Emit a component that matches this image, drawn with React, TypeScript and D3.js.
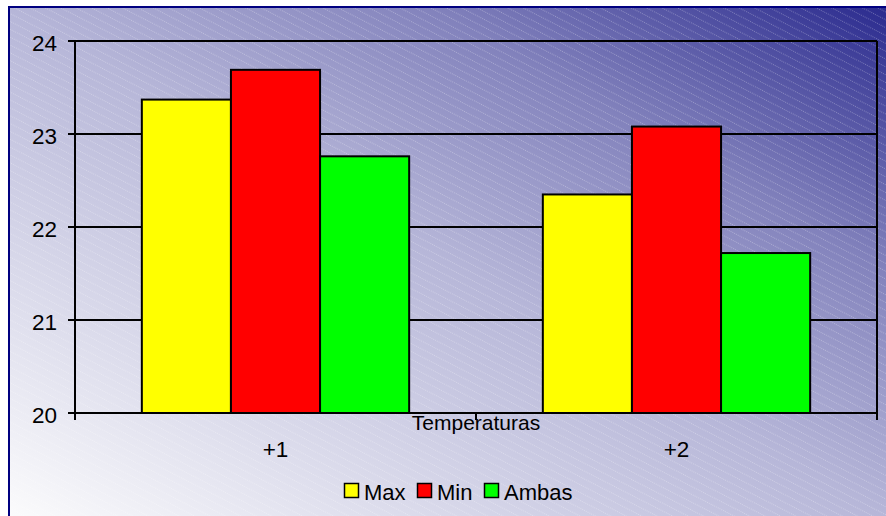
import React from "react";
import * as d3 from "d3";

const categories = ["+1", "+2"];
const seriesNames = ["Max", "Min", "Ambas"];
const seriesColors = ["#FFFF00", "#FF0000", "#00FF00"];
const maxValues = [23.37, 22.35];
const minValues = [23.69, 23.08];
const ambasValues = [22.76, 21.72];
const yTicks = [20, 21, 22, 23, 24];
const axisTitle = "Temperaturas";

const W = 886;
const H = 516;

export default function App() {
  const seriesValues = [maxValues, minValues, ambasValues];
  const plot = { left: 75, right: 877, top: 41, bottom: 413 };
  const y = d3.scaleLinear().domain([20, 24]).range([plot.bottom, plot.top]);
  const x0 = d3.scaleBand<string>().domain(categories).range([plot.left, plot.right]).padding(0);
  const x1 = d3
    .scaleBand<string>()
    .domain(seriesNames)
    .range([0, x0.bandwidth()])
    .paddingInner(0)
    .paddingOuter(0.75);

  const font = "'Liberation Sans', Arial, sans-serif";
  const boundaries = [plot.left, ...categories.map((c) => (x0(c) as number) + x0.bandwidth())];
  const legendX = [344, 417, 484];

  return (
    <svg
      width={W}
      height={H}
      style={{ position: "absolute", left: 0, top: 0, display: "block" }}
      fontFamily={font}
    >
      <defs>
        <linearGradient id="bg" gradientUnits="userSpaceOnUse" x1={-221.5} y1={383.6} x2={219} y2={-379.3}>
          <stop offset="0" stopColor="#fbfbfc" />
          <stop offset="0.5" stopColor="#b6b6d8" />
          <stop offset="0.74" stopColor="#8282bc" />
          <stop offset="1" stopColor="#2a2a8e" />
        </linearGradient>
        <pattern
          id="stripes"
          patternUnits="userSpaceOnUse"
          width={8}
          height={7}
          patternTransform="rotate(27)"
        >
          <line x1={0} y1={0.5} x2={8} y2={0.5} stroke="#ffffff" strokeOpacity={0.28} strokeWidth={1} strokeDasharray="1 1" />
        </pattern>
      </defs>
      <rect x={0} y={0} width={W} height={H} fill="#ffffff" />
      <rect x={9} y={7} width={W + 20} height={H + 20} fill="url(#bg)" />
      <rect x={9} y={7} width={W + 20} height={H + 20} fill="url(#stripes)" />
      <rect x={9} y={7} width={W + 20} height={H + 20} fill="none" stroke="#000080" strokeWidth={2} />

      {/* gridlines */}
      {yTicks.slice(1).map((t) => (
        <line key={t} x1={plot.left} x2={plot.right} y1={y(t)} y2={y(t)} stroke="#000" strokeWidth={2} />
      ))}
      <line x1={plot.right} x2={plot.right} y1={plot.top} y2={plot.bottom} stroke="#000" strokeWidth={2} />

      {/* bars */}
      {categories.map((c, ci) =>
        seriesNames.map((s, si) => {
          const v = seriesValues[si][ci];
          const bx = (x0(c) as number) + (x1(s) as number);
          return (
            <rect
              key={c + s}
              x={bx}
              y={y(v)}
              width={x1.bandwidth()}
              height={y(20) - y(v)}
              fill={seriesColors[si]}
              stroke="#000"
              strokeWidth={2}
            />
          );
        })
      )}

      {/* axes */}
      <line x1={plot.left} x2={plot.left} y1={plot.top - 1} y2={plot.bottom + 2} stroke="#000" strokeWidth={2} />
      <line x1={plot.left - 1} x2={plot.right + 1} y1={plot.bottom} y2={plot.bottom} stroke="#000" strokeWidth={2} />
      {yTicks.map((t) => (
        <g key={t}>
          <line x1={plot.left - 7} x2={plot.left} y1={y(t)} y2={y(t)} stroke="#000" strokeWidth={2} />
          <text x={57} y={y(t) + 10} textAnchor="end" fontSize={22.5} fill="#000">
            {t}
          </text>
        </g>
      ))}
      {boundaries.map((bx, i) => (
        <line key={i} x1={bx} x2={bx} y1={plot.bottom} y2={plot.bottom + 7} stroke="#000" strokeWidth={2} />
      ))}
      {categories.map((c) => (
        <text
          key={c}
          x={(x0(c) as number) + x0.bandwidth() / 2}
          y={457}
          textAnchor="middle"
          fontSize={22.5}
          fill="#000"
        >
          {c}
        </text>
      ))}
      <text x={(plot.left + plot.right) / 2} y={430} textAnchor="middle" fontSize={21} fill="#000">
        {axisTitle}
      </text>

      {/* legend */}
      {seriesNames.map((s, i) => (
        <g key={s}>
          <rect x={legendX[i] + 0.5} y={483.5} width={14} height={14} fill={seriesColors[i]} stroke="#000" strokeWidth={1.5} />
          <text x={legendX[i] + 20} y={500} fontSize={22} fill="#000">
            {s}
          </text>
        </g>
      ))}
    </svg>
  );
}
